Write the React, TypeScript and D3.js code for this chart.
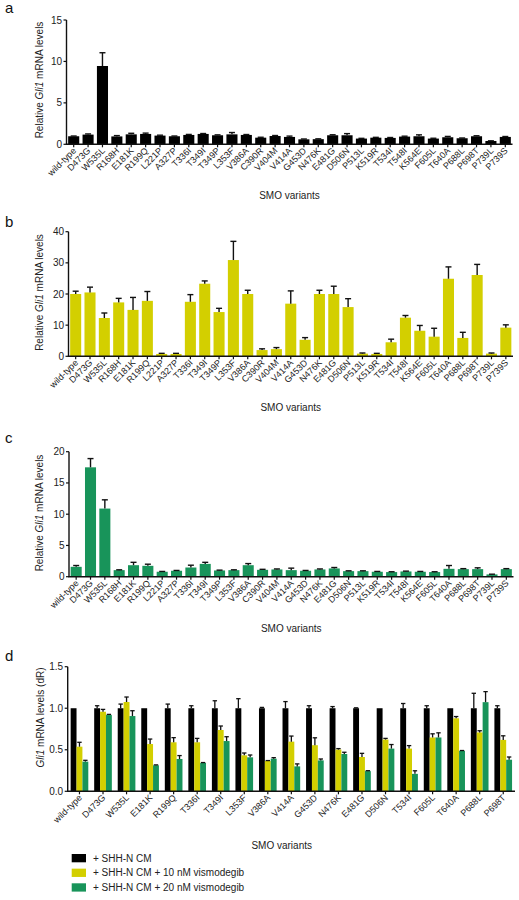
import React from "react";
import * as d3 from "d3";

// ---------- DATA ----------
const variants = ["wild-type","D473G","W535L","R168H","E181K","R199Q","L221P","A327P","T336I","T349I","T349P","L353F","V386A","C390R","V404M","V414A","G453D","N476K","E481G","D506N","P513L","K519R","T534I","T548I","K564E","F605L","T640A","P688L","P698T","P739L","P739S"];

const valuesA = [0.97,1.17,9.45,0.95,1.2,1.25,1.05,0.97,1.13,1.25,1.09,1.2,1.13,0.8,1.0,0.89,0.6,0.62,1.09,1.09,0.69,0.8,0.77,0.93,0.97,0.69,0.85,0.73,0.97,0.4,0.89];
const errA = [0.03,0.08,1.6,0.1,0.13,0.1,0.05,0.03,0.06,0.05,0.05,0.22,0.05,0.05,0.06,0.1,0.04,0.04,0.06,0.2,0.03,0.04,0.05,0.05,0.17,0.04,0.1,0.03,0.06,0.02,0.05];

const valuesB = [20.0,20.5,12.3,17.3,14.9,17.8,0.75,0.75,17.5,23.3,14.2,30.9,20.0,2.0,2.3,16.9,5.3,20.0,20.0,15.8,0.86,0.75,4.5,12.4,8.2,6.3,24.9,5.9,26.1,0.86,9.2];
const errB = [0.9,1.7,1.6,1.3,4.0,3.0,0.2,0.2,2.3,0.9,1.2,6.0,1.2,0.4,0.5,4.1,0.7,1.2,2.5,2.7,0.2,0.2,1.0,0.7,1.7,2.7,3.8,1.8,3.4,0.2,0.9];

const valuesC = [1.58,17.5,10.9,1.05,1.84,1.74,0.79,0.95,1.47,2.05,1.0,1.05,1.84,1.1,1.16,1.05,0.95,1.16,1.32,0.89,0.89,0.79,0.74,0.84,0.79,0.74,1.26,1.21,1.21,0.37,1.21];
const errC = [0.21,1.4,1.4,0.05,0.46,0.26,0.05,0.05,0.37,0.25,0.05,0.05,0.26,0.08,0.08,0.32,0.05,0.08,0.15,0.05,0.05,0.05,0.05,0.05,0.05,0.05,0.53,0.08,0.21,0.03,0.08];

const ticksA = [0, 5, 10, 15];
const ticksB = [0, 10, 20, 30, 40];
const ticksC = [0, 5, 10, 15, 20];
const ticksD = [0, 0.5, 1.0, 1.5];

const groupsD = ["wild-type","D473G","W535L","E181K","R199Q","T336I","T349I","L353F","V386A","V414A","G453D","N476K","E481G","D506N","T534I","F605L","T640A","P688L","P698T"];
const seriesNames = ["+ SHH-N CM","+ SHH-N CM + 10 nM vismodegib","+ SHH-N CM + 20 nM vismodegib"];
const dBlack = [1,1,1,1,1,1,1,1,1,1,1,1,1,1,1,1,1,1,1];
const dBlackErr = [0,0.03,0.05,0,0.05,0.03,0.09,0.115,0.01,0.08,0.03,0.02,0.005,0,0.057,0.03,0,0.18,0.03];
const dYellow = [0.537,0.958,1.075,0.569,0.59,0.59,0.738,0.433,0.365,0.598,0.555,0.502,0.413,0.623,0.514,0.648,0.879,0.709,0.619];
const dYellowErr = [0.053,0.028,0.06,0.06,0.056,0.047,0.048,0.028,0.005,0.067,0.089,0.012,0.044,0.014,0.036,0.044,0.021,0.02,0.049];
const dGreen = [0.357,0.918,0.906,0.313,0.389,0.341,0.605,0.409,0.393,0.30,0.372,0.449,0.243,0.514,0.21,0.648,0.486,1.073,0.38];
const dGreenErr = [0.016,0.008,0.064,0.005,0.041,0.005,0.052,0.028,0.012,0.03,0.017,0.021,0.005,0.049,0.037,0.056,0.005,0.127,0.033];

// ---------- STYLE ----------
const FONT = "'Liberation Sans', Arial, Helvetica, sans-serif";
const BLACK = "#000000";
const YELLOW = "#d3cf00";
const GREEN = "#18945a";
const AXIS_W = 1.4;

function YTitle({ x, cy, suffix }: { x: number; cy: number; suffix?: boolean }) {
  return (
    <text transform={`translate(${x},${cy}) rotate(-90)`} textAnchor="middle" fontSize={10} fontFamily={FONT} fill="#222">
      {suffix ? null : "Relative "}
      <tspan fontStyle="italic">Gli1</tspan>
      {suffix ? " mRNA levels (dR)" : " mRNA levels"}
    </text>
  );
}

type PanelCfg = {
  letter: string; letterY: number;
  values: number[]; errs: number[]; color: string;
  ticks: number[]; x0: number; x1: number; yTop: number; yBottom: number;
  titleCy: number; xTitleY: number;
};

function BarPanel({ p }: { p: PanelCfg }) {
  const x = d3.scaleBand<string>().domain(variants).range([p.x0, p.x1]).paddingInner(0.23).paddingOuter(0.115);
  const yMax = p.ticks[p.ticks.length - 1];
  const y = d3.scaleLinear().domain([0, yMax]).range([p.yBottom, p.yTop]);
  const bw = x.bandwidth();
  const cap = 3;
  return (
    <g>
      <text x={5} y={p.letterY} fontSize={15} fontFamily={FONT} fill="#111">{p.letter}</text>
      {variants.map((v, i) => {
        const xv = x(v)!;
        const yv = y(p.values[i]);
        const ye = y(p.values[i] + p.errs[i]);
        const cx = xv + bw / 2;
        return (
          <g key={v}>
            <rect x={xv} y={yv} width={bw} height={p.yBottom - yv} fill={p.color} />
            {p.errs[i] > 0 && (
              <g stroke="#111" strokeWidth={1.4}>
                <line x1={cx} x2={cx} y1={yv} y2={ye} />
                <line x1={cx - cap} x2={cx + cap} y1={ye} y2={ye} />
              </g>
            )}
          </g>
        );
      })}
      {/* y axis */}
      <line x1={p.x0} x2={p.x0} y1={p.yTop} y2={p.yBottom} stroke="#111" strokeWidth={AXIS_W} />
      {p.ticks.map((t) => (
        <g key={t}>
          <line x1={p.x0 - 3} x2={p.x0} y1={y(t)} y2={y(t)} stroke="#111" strokeWidth={1.2} />
          <text x={p.x0 - 4.5} y={y(t)} dy="0.35em" textAnchor="end" fontSize={10} fontFamily={FONT} fill="#222">{t}</text>
        </g>
      ))}
      {/* x axis */}
      <line x1={p.x0 - 0.7} x2={p.x1} y1={p.yBottom} y2={p.yBottom} stroke="#111" strokeWidth={AXIS_W} />
      {variants.map((v) => {
        const cx = x(v)! + bw / 2;
        return (
          <g key={v}>
            <line x1={cx} x2={cx} y1={p.yBottom} y2={p.yBottom + 3} stroke="#111" strokeWidth={1.2} />
            <text transform={`translate(${cx + 3},${p.yBottom + 7}) rotate(-45)`} textAnchor="end" fontSize={9} fontFamily={FONT} fill="#222">{v}</text>
          </g>
        );
      })}
      <YTitle x={42.5} cy={p.titleCy} />
      <text x={(p.x0 + p.x1) / 2} y={p.xTitleY} textAnchor="middle" fontSize={10} fontFamily={FONT} fill="#222">SMO variants</text>
    </g>
  );
}

function GroupedPanel() {
  const x0 = 67.7, x1 = 515, yTop = 666.7, yBottom = 791.3;
  const xg = d3.scaleBand<string>().domain(groupsD).range([x0, x1]).paddingInner(0.25).paddingOuter(0.125);
  const xs = d3.scaleBand<string>().domain(seriesNames).range([0, xg.bandwidth()]);
  const y = d3.scaleLinear().domain([0, 1.5]).range([yBottom, yTop]);
  const series = [
    { name: seriesNames[0], vals: dBlack, errs: dBlackErr, color: BLACK },
    { name: seriesNames[1], vals: dYellow, errs: dYellowErr, color: YELLOW },
    { name: seriesNames[2], vals: dGreen, errs: dGreenErr, color: GREEN },
  ];
  const bw = xs.bandwidth();
  const cap = 2.2;
  return (
    <g>
      <text x={5} y={661} fontSize={15} fontFamily={FONT} fill="#111">d</text>
      {groupsD.map((g, i) => (
        <g key={g}>
          {series.map((s) => {
            const xv = xg(g)! + xs(s.name)!;
            const yv = y(s.vals[i]);
            const ye = y(s.vals[i] + s.errs[i]);
            const cx = xv + bw / 2;
            return (
              <g key={s.name}>
                <rect x={xv} y={yv} width={bw} height={yBottom - yv} fill={s.color} />
                {s.errs[i] > 0 && (
                  <g stroke="#111" strokeWidth={1.3}>
                    <line x1={cx} x2={cx} y1={yv} y2={ye} />
                    <line x1={cx - cap} x2={cx + cap} y1={ye} y2={ye} />
                  </g>
                )}
              </g>
            );
          })}
        </g>
      ))}
      <line x1={x0} x2={x0} y1={yTop} y2={yBottom} stroke="#111" strokeWidth={AXIS_W} />
      {ticksD.map((t) => (
        <g key={t}>
          <line x1={x0 - 3} x2={x0} y1={y(t)} y2={y(t)} stroke="#111" strokeWidth={1.2} />
          <text x={x0 - 4.5} y={y(t)} dy="0.35em" textAnchor="end" fontSize={10} fontFamily={FONT} fill="#222">{d3.format(".1f")(t)}</text>
        </g>
      ))}
      <line x1={x0 - 0.7} x2={x1} y1={yBottom} y2={yBottom} stroke="#111" strokeWidth={AXIS_W} />
      {groupsD.map((g) => {
        const cx = xg(g)! + xg.bandwidth() / 2;
        return (
          <g key={g}>
            <line x1={cx} x2={cx} y1={yBottom} y2={yBottom + 3} stroke="#111" strokeWidth={1.2} />
            <text transform={`translate(${cx + 3},${yBottom + 7}) rotate(-45)`} textAnchor="end" fontSize={9} fontFamily={FONT} fill="#222">{g}</text>
          </g>
        );
      })}
      <YTitle x={43.5} cy={717.5} suffix />
      <text x={281.7} y={849} textAnchor="middle" fontSize={10} fontFamily={FONT} fill="#222">SMO variants</text>
      {series.map((s, i) => (
        <g key={s.name}>
          <rect x={71.7} y={854 + i * 14.65} width={14.3} height={8.3} fill={s.color} />
          <text x={93} y={854 + i * 14.65 + 7.8} fontSize={10} fontFamily={FONT} fill="#222">{s.name}</text>
        </g>
      ))}
    </g>
  );
}

const panels: PanelCfg[] = [
  { letter: "a", letterY: 13, values: valuesA, errs: errA, color: BLACK, ticks: ticksA, x0: 66.5, x1: 512.5, yTop: 20, yBottom: 144.3, titleCy: 80, xTitleY: 199 },
  { letter: "b", letterY: 227, values: valuesB, errs: errB, color: YELLOW, ticks: ticksB, x0: 68.5, x1: 513, yTop: 231.7, yBottom: 356.3, titleCy: 292.5, xTitleY: 411 },
  { letter: "c", letterY: 443, values: valuesC, errs: errC, color: GREEN, ticks: ticksC, x0: 69, x1: 513.5, yTop: 451.7, yBottom: 576.7, titleCy: 513, xTitleY: 631.5 },
];

export default function App() {
  return (
    <svg width={519} height={900} style={{ position: "absolute", left: 0, top: 0, background: "#fff" }}>
      <rect x={0} y={0} width={519} height={900} fill="#fff" />
      {panels.map((p) => <BarPanel key={p.letter} p={p} />)}
      <GroupedPanel />
    </svg>
  );
}
